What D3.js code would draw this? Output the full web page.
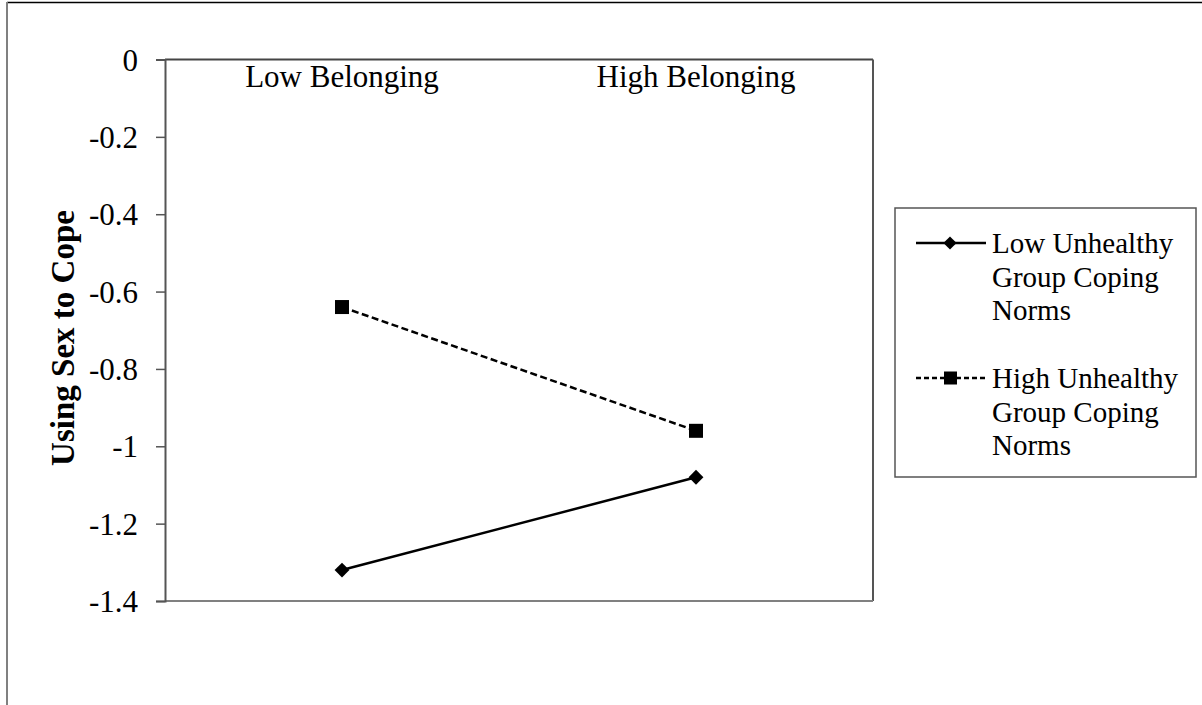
<!DOCTYPE html>
<html>
<head>
<meta charset="utf-8">
<script src="https://cdn.jsdelivr.net/npm/d3@7"></script>
<style>
  body { margin: 0; background: #fff; }
  svg text { font-family: "Liberation Serif", "Times New Roman", serif !important; fill: #000; }
</style>
</head>
<body>
<div id="chart"></div>
<script>
// Dados do grafico
var categories = ["Low Belonging", "High Belonging"];
var seriesNames = [["Low Unhealthy", "Group Coping", "Norms"], ["High Unhealthy", "Group Coping", "Norms"]];
var lowNormsValues = [-1.32, -1.08];
var highNormsValues = [-0.64, -0.96];
var yTicks = [0, -0.2, -0.4, -0.6, -0.8, -1, -1.2, -1.4];
var yTitle = "Using Sex to Cope";

var W = 1202, H = 705;
var plot = { left: 165, right: 873, top: 59.5, bottom: 601 };
var serif = "'Liberation Serif', 'Times New Roman', serif";

var svg = d3.select("#chart")
    .append("svg")
    .attr("width", W)
    .attr("height", H);

// Borda externa
svg.append("line").attr("x1", 7).attr("x2", W).attr("y1", 2.5).attr("y2", 2.5)
    .attr("stroke", "#000").attr("stroke-width", 1.5);
svg.append("line").attr("x1", 7).attr("x2", 7).attr("y1", 2).attr("y2", H)
    .attr("stroke", "#808080").attr("stroke-width", 2);

// Escalas
var xScale = d3.scaleBand().domain(categories).range([plot.left, plot.right]);
var yScale = d3.scaleLinear().domain([-1.4, 0]).range([plot.bottom, plot.top]);

// Moldura da area do grafico
svg.append("line").attr("x1", plot.left).attr("x2", plot.right).attr("y1", plot.top).attr("y2", plot.top)
    .attr("stroke", "#444").attr("stroke-width", 2);
svg.append("line").attr("x1", plot.right).attr("x2", plot.right).attr("y1", plot.top).attr("y2", plot.bottom)
    .attr("stroke", "#555").attr("stroke-width", 2);
svg.append("line").attr("x1", plot.left).attr("x2", plot.right).attr("y1", plot.bottom).attr("y2", plot.bottom)
    .attr("stroke", "#808080").attr("stroke-width", 2);

// Eixo Y
var yAxis = d3.axisLeft(yScale)
    .tickValues(yTicks)
    .tickSize(9)
    .tickPadding(18);

var gy = svg.append("g")
    .attr("transform", "translate(" + plot.left + ",0)")
    .call(yAxis);
gy.select(".domain").attr("stroke", "#555").attr("stroke-width", 2);
gy.selectAll(".tick line").attr("stroke", "#555").attr("stroke-width", 1.5);
gy.selectAll(".tick text")
    .attr("font-size", 31)
    .style("font-family", serif)
    .attr("dy", "0.34em")
    .text(function(d) { return d === 0 ? "0" : String(+d.toFixed(1)); });

// Titulo do eixo Y
svg.append("text")
    .attr("transform", "translate(74," + 338 + ") rotate(-90)")
    .attr("text-anchor", "middle")
    .attr("font-size", 33)
    .attr("font-weight", "bold")
    .style("font-family", serif)
    .text(yTitle);

// Rotulos das categorias (no topo)
svg.selectAll(".cat-label")
    .data(categories)
    .enter()
    .append("text")
    .attr("class", "cat-label")
    .attr("x", function(d) { return xScale(d) + xScale.bandwidth() / 2; })
    .attr("y", 87)
    .attr("text-anchor", "middle")
    .attr("font-size", 31)
    .style("font-family", serif)
    .text(function(d) { return d; });

// Linhas
var line = d3.line()
    .x(function(d, i) { return xScale(categories[i]) + xScale.bandwidth() / 2; })
    .y(function(d) { return yScale(d); });

svg.append("path")
    .datum(highNormsValues)
    .attr("d", line)
    .attr("fill", "none")
    .attr("stroke", "#000")
    .attr("stroke-width", 2.5)
    .attr("stroke-dasharray", "7,3.5");

svg.append("path")
    .datum(lowNormsValues)
    .attr("d", line)
    .attr("fill", "none")
    .attr("stroke", "#000")
    .attr("stroke-width", 2.5);

// Marcadores
var diamond = d3.symbol().type(d3.symbolDiamond2).size(140);

svg.selectAll(".low-pt")
    .data(lowNormsValues)
    .enter()
    .append("path")
    .attr("class", "low-pt")
    .attr("transform", function(d, i) {
        return "translate(" + (xScale(categories[i]) + xScale.bandwidth() / 2) + "," + yScale(d) + ")";
    })
    .attr("d", diamond)
    .attr("fill", "#000");

svg.selectAll(".high-pt")
    .data(highNormsValues)
    .enter()
    .append("rect")
    .attr("class", "high-pt")
    .attr("x", function(d, i) { return xScale(categories[i]) + xScale.bandwidth() / 2 - 7; })
    .attr("y", function(d) { return yScale(d) - 7; })
    .attr("width", 14)
    .attr("height", 14)
    .attr("fill", "#000");

// Legenda
var legend = svg.append("g");
legend.append("rect")
    .attr("x", 895).attr("y", 208)
    .attr("width", 301).attr("height", 269)
    .attr("fill", "#fff")
    .attr("stroke", "#555")
    .attr("stroke-width", 1.5);

var legendY = [243, 378];
seriesNames.forEach(function(names, k) {
    var g = legend.append("g").attr("transform", "translate(0," + legendY[k] + ")");
    g.append("line")
        .attr("x1", 916).attr("x2", 986).attr("y1", 0).attr("y2", 0)
        .attr("stroke", "#000").attr("stroke-width", 2.5)
        .attr("stroke-dasharray", k === 1 ? "5,3" : null);
    if (k === 0) {
        g.append("path")
            .attr("transform", "translate(950,0)")
            .attr("d", d3.symbol().type(d3.symbolDiamond2).size(110))
            .attr("fill", "#000");
    } else {
        g.append("rect")
            .attr("x", 944).attr("y", -6.5).attr("width", 13).attr("height", 13)
            .attr("fill", "#000");
    }
    g.selectAll("text")
        .data(names)
        .enter()
        .append("text")
        .attr("x", 992)
        .attr("y", function(d, i) { return 10 + i * 33.5; })
        .attr("font-size", 29)
        .style("font-family", serif)
        .text(function(d) { return d; });
});
</script>
</body>
</html>
